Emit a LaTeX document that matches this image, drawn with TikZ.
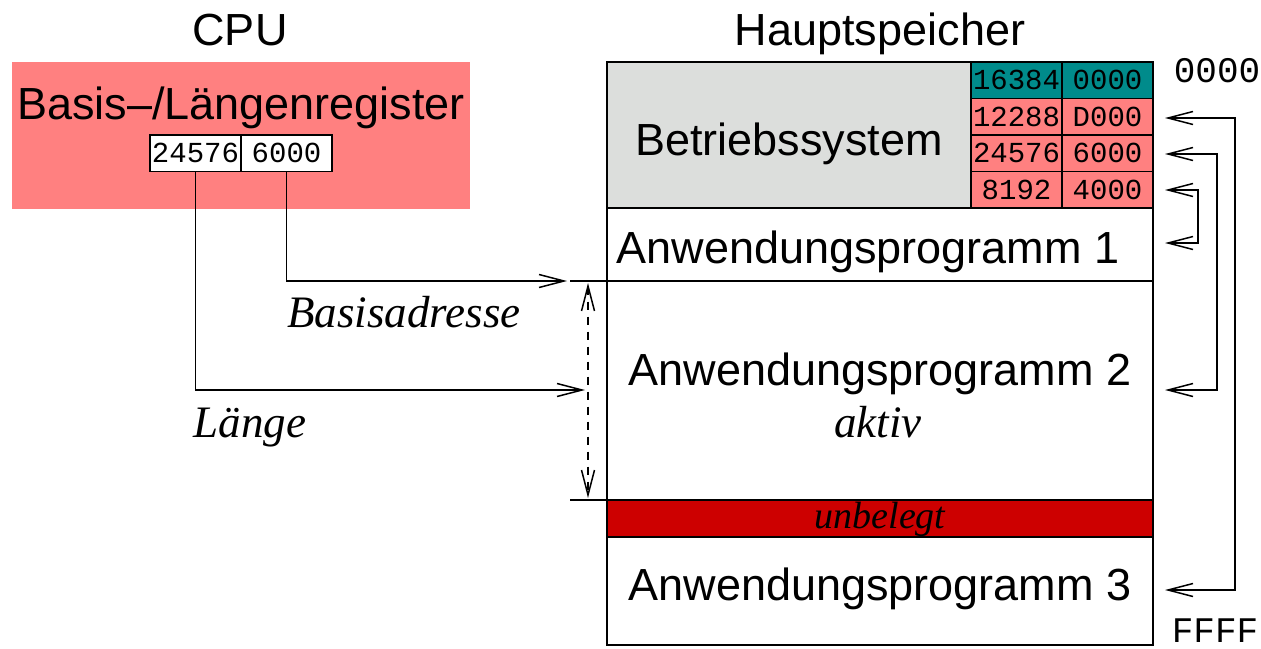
\documentclass[tikz,border=0pt]{standalone}
\usepackage{fontspec}
\setmainfont{Liberation Serif}
\setsansfont{Liberation Sans}
\setmonofont{Liberation Mono}
\usetikzlibrary{arrows.meta}
\definecolor{cpured}{RGB}{255,128,128}
\definecolor{osgray}{RGB}{220,222,220}
\definecolor{tealc}{RGB}{0,139,139}
\definecolor{unbel}{RGB}{205,0,0}
\begin{document}
\begin{tikzpicture}[x=0.5pt,y=-0.5pt,
  lw/.style={line width=0.75pt},
  box/.style={draw, line width=0.75pt, inner sep=0pt, outer sep=0pt, anchor=north west},
  big/.style={font=\sffamily\fontsize{22.5}{27}\selectfont, inner sep=0pt, anchor=base},
  ital/.style={font=\itshape\fontsize{22.5}{27}\selectfont, inner sep=0pt, anchor=base},
  cell/.style={box, minimum width=45.5pt, minimum height=18.25pt, font=\ttfamily\fontsize{14.5}{16}\selectfont},
  monobig/.style={font=\ttfamily\fontsize{18}{20}\selectfont, inner sep=0pt, anchor=base},
  arr/.style={line width=0.75pt, -{Straight Barb[length=12.5pt,width=6.5pt]}},
  darr/.style={line width=0.75pt, {Straight Barb[length=12.5pt,width=6.5pt]}-{Straight Barb[length=12.5pt,width=6.5pt]}},
  dash2/.style={dash pattern=on 4pt off 3.5pt}]
\useasboundingbox (0,0) rectangle (1261,648);

% CPU
\node[anchor=north west, fill=cpured, minimum width=229pt, minimum height=73.5pt, inner sep=0pt] (cpu) at (12,62) {};
\node[big] (tcpu) at (240,45) {CPU};
\node[big] (treg) at (241,119) {Basis–/Längenregister};
\node[cell, fill=white] (r1) at (150,135) {24576};
\node[cell, fill=white] (r2) at (241,135) {6000};

% Memory
\node[big] (tmem) at (880,45) {Hauptspeicher};
\node[box, fill=osgray, minimum width=273pt, minimum height=73pt] (os) at (607,62) {};
\node[box, minimum width=273pt, minimum height=36.5pt] (app1) at (607,208) {};
\node[box, minimum width=273pt, minimum height=109.5pt] (app2) at (607,281) {};
\node[box, fill=unbel, minimum width=273pt, minimum height=18.5pt] (unb) at (607,500) {};
\node[box, minimum width=273pt, minimum height=54pt] (app3) at (607,537) {};

\node[cell, fill=tealc] (c11) at (971,62) {16384};
\node[cell, fill=tealc] (c12) at (1062,62) {0000};
\node[cell, fill=cpured] (c21) at (971,98.5) {12288};
\node[cell, fill=cpured] (c22) at (1062,98.5) {D000};
\node[cell, fill=cpured] (c31) at (971,135) {24576};
\node[cell, fill=cpured] (c32) at (1062,135) {6000};
\node[cell, fill=cpured] (c41) at (971,171.5) {8192};
\node[cell, fill=cpured] (c42) at (1062,171.5) {4000};

\node[big] (tos) at (789,155) {Betriebssystem};
\node[big] (ta1) at (868,263) {Anwendungsprogramm 1};
\node[big] (ta2) at (880,385) {Anwendungsprogramm 2};
\node[ital] (takt) at (878,437) {aktiv};
\node[ital, font=\itshape\fontsize{19}{22}\selectfont] (tunb) at (880,528) {unbelegt};
\node[big] (ta3) at (880,600) {Anwendungsprogramm 3};
\node[monobig] (t0) at (1217,82) {0000};
\node[monobig] (tf) at (1215,642) {FFFF};

% labels
\node[ital] (tba) at (404,327) {Basisadresse};
\node[ital] (tla) at (250,437) {Länge};

% CPU connectors
\coordinate (be) at (567,281);
\coordinate (le) at (585,390);
\draw[arr] (r2.south) |- (be);
\draw[arr] (r1.south) |- (le);
\coordinate (tk1) at (570,281);
\coordinate (tk2) at (570,500);
\draw[lw] (tk1) -- (app2.north west);
\draw[lw] (tk2) -- (app2.south west);
\coordinate (d1) at (588,283);
\coordinate (d2) at (588,498);
\draw[darr, dash2] (d1) -- (d2);

% right connectors
\coordinate (p1) at (1165,118);
\coordinate (p1b) at (1165,590);
\coordinate (p2) at (1165,154);
\coordinate (p2b) at (1165,390);
\coordinate (p3) at (1165,190);
\coordinate (p3b) at (1165,243);
\draw[darr] (p1) -- ++(70,0) |- (p1b);
\draw[darr] (p2) -- ++(52,0) |- (p2b);
\draw[darr] (p3) -- ++(33,0) |- (p3b);
\end{tikzpicture}
\end{document}
